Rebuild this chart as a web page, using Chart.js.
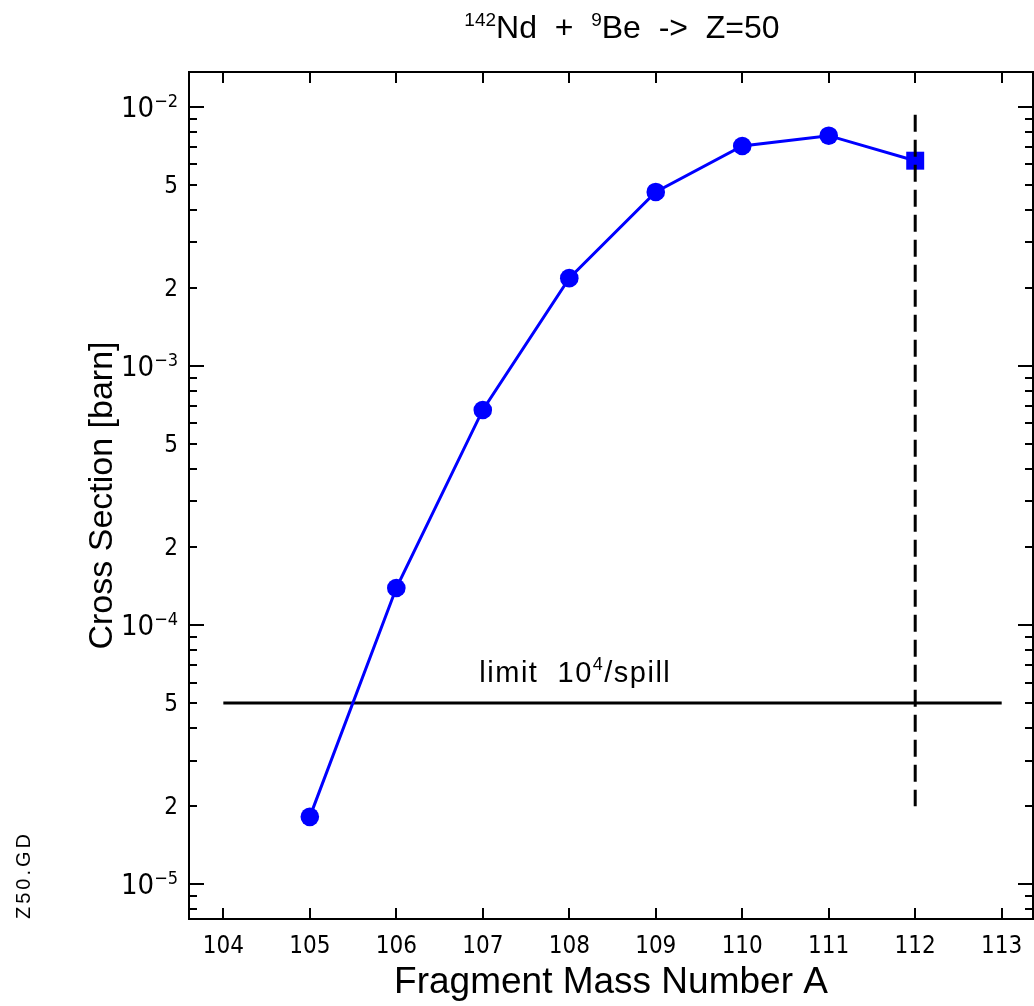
<!DOCTYPE html>
<html>
<head>
<meta charset="utf-8">
<script src="https://cdn.jsdelivr.net/npm/chart.js@4.4.1/dist/chart.umd.min.js"></script>
<style>
html,body{margin:0;padding:0;background:#fff;}
#wrap{width:1034px;height:1006px;position:relative;}
</style>
</head>
<body>
<div id="wrap"><canvas id="c" width="1034" height="1006"></canvas></div>
<script>
// ---- data ----
const massNumbers   = [105, 106, 107, 108, 109, 110, 111, 112];
const crossSections = [1.82e-5, 1.39e-4, 6.76e-4, 2.18e-3, 4.69e-3, 7.05e-3, 7.73e-3, 6.19e-3];
const pointShapes   = ['circle','circle','circle','circle','circle','circle','circle','rect'];
const limitX = [104, 113];
const limitY = [5e-5, 5e-5];
const cutX = [112, 112];
const cutY = [9.3e-3, 2e-5];
const xTickValues = [104, 105, 106, 107, 108, 109, 110, 111, 112, 113];
const yDecadeExponents = [-5, -4, -3, -2];
const yLabeledMantissas = [2, 5];
const titleRuns = [['142', 'sup'], ['Nd  +  ', 'main'], ['9', 'sup'], ['Be  ->  Z=50', 'main']];
const xTitle = 'Fragment Mass Number A';
const yTitle = 'Cross Section [barn]';
const limitLabelRuns = [['limit  10', 'main'], ['4', 'sup'], ['/spill', 'main']];
const fileTag = 'Z50.GD';

const NARROW = "'Liberation Sans Narrow','DejaVu Sans Condensed',sans-serif";
const SANS = "'Liberation Sans',Arial,sans-serif";

function toPts(xs, ys){ return xs.map((x,i)=>({x:x, y:ys[i]})); }

function drawRuns(ctx, runs, x, y, align, mainFont, supFont, supRise, spacing){
  ctx.save();
  ctx.textAlign = 'left';
  ctx.textBaseline = 'alphabetic';
  if (spacing && 'letterSpacing' in ctx) ctx.letterSpacing = spacing;
  let total = 0;
  const widths = runs.map(r=>{ ctx.font = r[1]==='sup'?supFont:mainFont; const w = ctx.measureText(r[0]).width; total += w; return w; });
  let cx = align==='center' ? x - total/2 : (align==='right' ? x - total : x);
  runs.forEach((r,i)=>{
    ctx.font = r[1]==='sup'?supFont:mainFont;
    ctx.fillText(r[0], cx, r[1]==='sup' ? y - supRise : y);
    cx += widths[i];
  });
  ctx.restore();
}

const framePlugin = {
  id: 'frame',
  afterDraw(chart){
    const ctx = chart.ctx;
    const a = chart.chartArea;
    const xs = chart.scales.x, ys = chart.scales.y;
    ctx.save();
    ctx.strokeStyle = '#000';
    ctx.fillStyle = '#000';
    ctx.lineWidth = 2;
    ctx.strokeRect(a.left, a.top, a.right - a.left, a.bottom - a.top);
    ctx.beginPath();
    // x ticks (bottom & top, inward)
    xTickValues.forEach(v=>{
      const px = Math.round(xs.getPixelForValue(v));
      ctx.moveTo(px, a.bottom); ctx.lineTo(px, a.bottom - 11);
      ctx.moveTo(px, a.top); ctx.lineTo(px, a.top + 11);
    });
    // y ticks (left & right, inward)
    for (let d = -6; d <= -1; d++){
      for (let m = 1; m <= 9; m++){
        const v = m * Math.pow(10, d);
        if (v < ys.min || v > ys.max) continue;
        const py = Math.round(ys.getPixelForValue(v));
        const len = m === 1 ? 15 : 8;
        ctx.moveTo(a.left, py); ctx.lineTo(a.left + len, py);
        ctx.moveTo(a.right, py); ctx.lineTo(a.right - len, py);
      }
    }
    ctx.stroke();

    // x tick labels
    ctx.font = '24px ' + NARROW;
    ctx.textAlign = 'center';
    ctx.textBaseline = 'alphabetic';
    xTickValues.forEach(v=>{
      ctx.fillText(String(v), xs.getPixelForValue(v), a.bottom + 34);
    });
    // y tick labels
    const labX = a.left - 11;
    yDecadeExponents.forEach(e=>{
      const py = ys.getPixelForValue(Math.pow(10, e));
      drawRuns(ctx, [['10','main'], ['\u2212' + Math.abs(e), 'sup']], labX, py + 10, 'right',
               '29px ' + NARROW, '18px ' + NARROW, 10);
      yLabeledMantissas.forEach(m=>{
        const v = m * Math.pow(10, e);
        if (v < ys.min || v > ys.max) return;
        ctx.font = '24px ' + NARROW;
        ctx.textAlign = 'right';
        ctx.fillText(String(m), labX, ys.getPixelForValue(v) + 8);
      });
    });

    // title
    drawRuns(ctx, titleRuns, (a.left + a.right)/2 + 11, 38, 'center', '32px ' + SANS, '19px ' + SANS, 12);

    // x axis title
    ctx.save();
    ctx.font = '37px ' + SANS;
    ctx.textAlign = 'center';
    ctx.fillText(xTitle, 611, 993);
    ctx.restore();

    // y axis title
    ctx.save();
    ctx.translate(112, (a.top + a.bottom)/2);
    ctx.rotate(-Math.PI/2);
    ctx.font = '34px ' + SANS;
    ctx.textAlign = 'center';
    ctx.fillText(yTitle, 0, 0);
    ctx.restore();

    // limit label
    drawRuns(ctx, limitLabelRuns, xs.getPixelForValue(108.07), ys.getPixelForValue(5e-5) - 21, 'center',
             '29px ' + SANS, '18px ' + SANS, 12, '1.5px');

    // file tag
    ctx.save();
    ctx.translate(30, 919);
    ctx.rotate(-Math.PI/2);
    ctx.font = '20px ' + SANS;
    if ('letterSpacing' in ctx) ctx.letterSpacing = '3px';
    ctx.textAlign = 'left';
    ctx.fillText(fileTag, 0, 0);
    ctx.restore();

    ctx.restore();
  }
};

new Chart(document.getElementById('c'), {
  type: 'line',
  data: {
    datasets: [
      {
        data: toPts(cutX, cutY),
        borderColor: '#000', borderWidth: 3, borderDash: [17, 8],
        pointRadius: 0, fill: false, order: 0
      },
      {
        data: toPts(limitX, limitY),
        borderColor: '#000', borderWidth: 3,
        pointRadius: 0, fill: false, order: 2
      },
      {
        data: toPts(massNumbers, crossSections),
        borderColor: '#0000ff', backgroundColor: '#0000ff', borderWidth: 3,
        pointStyle: pointShapes,
        pointRadius: pointShapes.map(s => s === 'rect' ? 12.7 : 9.3),
        pointBorderWidth: 0, pointBackgroundColor: '#0000ff',
        tension: 0, fill: false, order: 1
      }
    ]
  },
  options: {
    responsive: false,
    animation: false,
    devicePixelRatio: 1,
    layout: { autoPadding: false, padding: { left: 189, top: 72, right: 1, bottom: 87 } },
    plugins: { legend: { display: false }, tooltip: { enabled: false } },
    scales: {
      x: { type: 'linear', display: false, min: 103.603, max: 113.362 },
      y: { type: 'logarithmic', display: false, min: 7.346e-6, max: 0.01361 }
    }
  },
  plugins: [framePlugin]
});
</script>
</body>
</html>
